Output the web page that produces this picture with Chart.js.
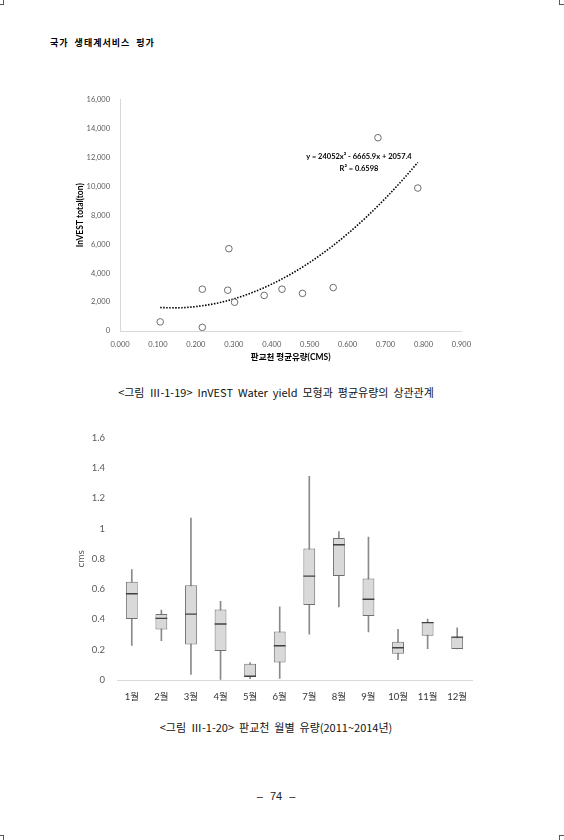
<!DOCTYPE html>
<html>
<head>
<meta charset="utf-8">
<script src="https://cdn.jsdelivr.net/npm/chart.js@4.4.1/dist/chart.umd.min.js"></script>
<style>
  body { margin: 0; background: #fff; }
  #page { position: relative; width: 564px; height: 840px; overflow: hidden; background: #fff;
          font-family: "Noto Sans CJK KR", sans-serif; color: #000; }
  .abs { position: absolute; }
  .mark { position: absolute; border-color: #555; border-style: solid; border-width: 0; }
  .eq { position: absolute; left: 259px; width: 200px; text-align: center; font-family: Lato, "Noto Sans", sans-serif;
        font-weight: 700; font-size: 7.5px; line-height: 10px; color: #000; }
  .cap { position: absolute; left: 0; width: 552px; text-align: center; font-size: 11px; line-height: 14px;
         word-spacing: 2.5px; color: #111; }
  canvas { position: absolute; }
</style>
</head>
<body>
<div id="page">
  <div class="mark" style="left:0;top:0;width:3px;height:4px;border-right-width:1px;border-bottom-width:1px"></div>
  <div class="mark" style="left:559px;top:0;width:4px;height:4px;border-left-width:1px;border-bottom-width:1px"></div>
  <div class="mark" style="left:0;top:835px;width:3px;height:5px;border-right-width:1px;border-top-width:1px"></div>
  <div class="mark" style="left:559px;top:835px;width:4px;height:5px;border-left-width:1px;border-top-width:1px"></div>

  <div class="abs" style="left:50px;top:37px;font-size:9px;font-weight:700;line-height:12px;letter-spacing:1px;word-spacing:3px">국가 생태계서비스 평가</div>

  <canvas id="scatterChart" width="420" height="290" style="left:60px;top:85px"></canvas>
  <div class="eq" style="top:152px">y = 24052x² - 6665.9x + 2057.4</div>
  <div class="eq" style="top:164px">R² = 0.6598</div>
  <div class="cap" style="top:385px">&lt;그림 Ⅲ-1-19&gt; InVEST Water yield 모형과 평균유량의 상관관계</div>

  <canvas id="boxChart" width="420" height="290" style="left:60px;top:420px"></canvas>
  <div class="cap" style="top:720px">&lt;그림 Ⅲ-1-20&gt; 판교천 월별 유량(2011~2014년)</div>

  <div class="abs" style="left:0;width:552px;top:790px;text-align:center;font-family:'Liberation Sans',sans-serif;font-size:11px;color:#222;word-spacing:4px">– 74 –</div>
</div>

<script>
// scatter: mean flow (CMS) vs InVEST water yield total (ton)
const flowX   = [0.106, 0.217, 0.217, 0.284, 0.287, 0.302, 0.380, 0.427, 0.481, 0.562, 0.680, 0.785];
const investY = [630, 250, 2890, 2820, 5690, 1990, 2460, 2890, 2600, 3000, 13360, 9880];

// dotted trend curve
const trendX = [0.106, 0.15, 0.2, 0.25, 0.3, 0.35, 0.4, 0.45, 0.5, 0.55, 0.6, 0.65, 0.7, 0.75, 0.785];
const trendY = [1620, 1600, 1690, 1890, 2220, 2670, 3240, 3930, 4740, 5670, 6720, 7890, 9180, 10590, 11650];

const scatterXTicks = [0, 0.1, 0.2, 0.3, 0.4, 0.5, 0.6, 0.7, 0.8, 0.9];
const scatterYTicks = [0, 2000, 4000, 6000, 8000, 10000, 12000, 14000, 16000];

// box plot: monthly flow 2011~2014
const months  = ["1월", "2월", "3월", "4월", "5월", "6월", "7월", "8월", "9월", "10월", "11월", "12월"];
const flowMin = [0.229, 0.259, 0.037, 0.004, 0.009, 0.011, 0.303, 0.483, 0.318, 0.135, 0.207, 0.205];
const flowQ1  = [0.403, 0.333, 0.235, 0.192, 0.020, 0.115, 0.496, 0.686, 0.422, 0.174, 0.292, 0.205];
const flowMed = [0.570, 0.407, 0.435, 0.370, 0.025, 0.226, 0.686, 0.893, 0.533, 0.213, 0.379, 0.283];
const flowQ3  = [0.649, 0.435, 0.625, 0.466, 0.108, 0.320, 0.869, 0.938, 0.670, 0.253, 0.383, 0.283];
const flowMax = [0.729, 0.461, 1.069, 0.520, 0.115, 0.483, 1.345, 0.980, 0.943, 0.335, 0.403, 0.344];

const boxYTicks = [0, 0.2, 0.4, 0.6, 0.8, 1, 1.2, 1.4, 1.6];

Chart.defaults.font.family = "Lato, 'Noto Sans CJK KR', sans-serif";
Chart.defaults.animation = false;

const setTicks = arr => scale => { scale.ticks = arr.map(v => ({ value: v })); };

// CHART 1
new Chart(document.getElementById("scatterChart"), {
  type: "scatter",
  data: {
    datasets: [
      {
        label: "InVEST",
        data: flowX.map((x, i) => ({ x: x, y: investY[i] })),
        pointRadius: 3.3,
        pointBorderWidth: 1,
        pointBorderColor: "#6d6d6d",
        pointBackgroundColor: "#ffffff",
        order: 1
      },
      {
        label: "trend",
        data: trendX.map((x, i) => ({ x: x, y: trendY[i] })),
        showLine: true,
        borderColor: "#000000",
        borderWidth: 1.6,
        borderDash: [1.5, 1.5],
        cubicInterpolationMode: "monotone",
        pointRadius: 0,
        order: 2
      }
    ]
  },
  options: {
    responsive: false,
    layout: { padding: { left: 0, right: 17, top: 14, bottom: 0 } },
    plugins: { legend: { display: false }, tooltip: { enabled: false } },
    scales: {
      x: {
        type: "linear",
        min: 0, max: 0.9,
        afterBuildTicks: setTicks(scatterXTicks),
        afterFit: s => { s.height = 44; },
        grid: { display: false, drawTicks: false },
        border: { display: true, color: "#d9d9d9", width: 1 },
        ticks: { padding: 9, color: "#595959", font: { size: 7.5 }, callback: v => v.toFixed(3) },
        title: { display: true, text: "판교천 평균유량(CMS)", color: "#000", font: { size: 8.5, weight: "bold" },
                 padding: { top: 0, bottom: 12.8 } }
      },
      y: {
        min: 0, max: 16000,
        afterBuildTicks: setTicks(scatterYTicks),
        afterFit: s => { s.width = 60; },
        grid: { display: false, drawTicks: false },
        border: { display: true, color: "#d9d9d9", width: 1 },
        ticks: { padding: 10, color: "#595959", font: { size: 7.5 }, callback: v => v.toLocaleString("en-US") },
        title: { display: true, text: "InVEST total(ton)", color: "#000", font: { size: 8.5, weight: "bold" },
                 padding: { top: 14.9, bottom: 0 } }
      }
    }
  }
});

// CHART 2
new Chart(document.getElementById("boxChart"), {
  type: "bar",
  data: {
    labels: months,
    datasets: [
      {
        label: "whisker",
        data: months.map((m, i) => [flowMin[i], flowMax[i]]),
        backgroundColor: "#8a8a8a",
        borderWidth: 0,
        barThickness: 1,
        grouped: false,
        order: 3
      },
      {
        label: "box",
        data: months.map((m, i) => [flowQ1[i], flowQ3[i]]),
        backgroundColor: "#d9d9d9",
        borderColor: "#6f6f6f",
        borderWidth: 1,
        borderSkipped: false,
        categoryPercentage: 1,
        barPercentage: 0.4,
        grouped: false,
        order: 2
      },
      {
        label: "median",
        type: "line",
        data: flowMed,
        showLine: false,
        pointStyle: "line",
        pointRadius: 5.9,
        pointBorderWidth: 1.4,
        pointBorderColor: "#404040",
        order: 1
      }
    ]
  },
  options: {
    responsive: false,
    layout: { padding: { left: 0, right: 8, top: 15, bottom: 0 } },
    plugins: { legend: { display: false }, tooltip: { enabled: false } },
    scales: {
      x: {
        afterFit: s => { s.height = 30; },
        grid: { display: false, drawTicks: false },
        border: { display: true, color: "#d9d9d9", width: 1 },
        ticks: { padding: 11.3, color: "#333333", font: { size: 9.5 } }
      },
      y: {
        min: 0, max: 1.6,
        afterBuildTicks: setTicks(boxYTicks),
        afterFit: s => { s.width = 57; },
        grid: { display: false, drawTicks: false },
        border: { display: false },
        ticks: { padding: 12, color: "#595959", font: { size: 9.5 }, callback: v => String(v) },
        title: { display: true, text: "cms", color: "#595959", font: { size: 10 }, padding: { top: 15, bottom: 0 } }
      }
    }
  }
});
</script>
</body>
</html>
